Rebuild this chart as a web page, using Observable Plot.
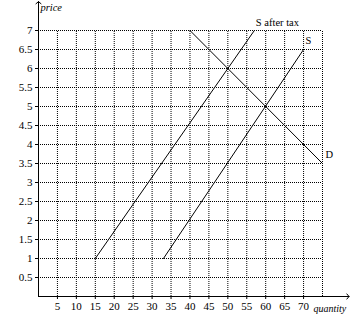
<!DOCTYPE html>
<html>
<head>
<meta charset="utf-8">
<script src="https://cdn.jsdelivr.net/npm/d3@7"></script>
<script src="https://cdn.jsdelivr.net/npm/@observablehq/plot@0.6"></script>
<style>
  html, body { margin: 0; padding: 0; background: #fff; }
  svg { display: block; }
</style>
</head>
<body>
<div id="chart"></div>
<script>
const xTicks = [5, 10, 15, 20, 25, 30, 35, 40, 45, 50, 55, 60, 65, 70];
const xGrid = [5, 10, 15, 20, 25, 30, 35, 40, 45, 50, 55, 60, 65, 70, 75];
const yTicks = [0.5, 1, 1.5, 2, 2.5, 3, 3.5, 4, 4.5, 5, 5.5, 6, 6.5, 7];

const supplyQ = [33, 70];
const supplyP = [1, 6.5];
const taxQ = [15, 57];
const taxP = [1, 7];
const demandQ = [40, 75];
const demandP = [7, 3.5];

const lineLabels = [
  {text: "S after tax", q: 57.4, p: 7.21},
  {text: "S", q: 70.5, p: 6.74},
  {text: "D", q: 75.8, p: 3.74}
];

const toPts = (qs, ps) => qs.map((q, i) => ({q, p: ps[i]}));
const font = "'Liberation Serif', 'Times New Roman', serif";

const chart = Plot.plot({
  width: 351,
  height: 333,
  marginLeft: 38,
  marginRight: 29,
  marginTop: 30,
  marginBottom: 37,
  x: {domain: [0, 75]},
  y: {domain: [0, 7]},
  style: {fontFamily: font, fontSize: "11px", background: "#fff", color: "#000", overflow: "visible"},
  marks: [
    Plot.ruleX(xGrid, {y1: 0, y2: 7, stroke: "#000", strokeWidth: 1, strokeDasharray: "1,1", strokeOpacity: 1}),
    Plot.ruleY(yTicks, {x1: 0, x2: 75, stroke: "#000", strokeWidth: 1, strokeDasharray: "1,1", strokeOpacity: 1}),
    Plot.axisX(xTicks, {tickSize: 3, tickPadding: 3, tickFormat: d => String(d), label: null, stroke: "#000", fill: "#000", fontSize: 11}),
    Plot.axisY(yTicks, {tickSize: 3, tickPadding: 3, tickFormat: d => String(d), label: null, stroke: "#000", fill: "#000", fontSize: 11}),
    Plot.arrow([{x1: 0, y1: 0, x2: 0, y2: 7.76}], {x1: "x1", y1: "y1", x2: "x2", y2: "y2", stroke: "#000", strokeWidth: 1, headLength: 5, headAngle: 100}),
    Plot.arrow([{x1: 0, y1: 0, x2: 82, y2: 0}], {x1: "x1", y1: "y1", x2: "x2", y2: "y2", stroke: "#000", strokeWidth: 1, headLength: 5, headAngle: 100}),
    Plot.line(toPts(supplyQ, supplyP), {x: "q", y: "p", stroke: "#000", strokeWidth: 1}),
    Plot.line(toPts(taxQ, taxP), {x: "q", y: "p", stroke: "#000", strokeWidth: 1}),
    Plot.line(toPts(demandQ, demandP), {x: "q", y: "p", stroke: "#000", strokeWidth: 1}),
    Plot.text(lineLabels, {x: "q", y: "p", text: "text", textAnchor: "start", fill: "#000", fontSize: 10.5}),
    Plot.text(["price"], {x: 0.5, y: 7.6, text: d => d, textAnchor: "start", fill: "#000", fontStyle: "italic", fontSize: 10.5}),
    Plot.text(["quantity"], {x: 72.6, y: -0.32, text: d => d, textAnchor: "start", fill: "#000", fontStyle: "italic", fontSize: 10})
  ]
});
document.getElementById("chart").appendChild(chart);
</script>
</body>
</html>
